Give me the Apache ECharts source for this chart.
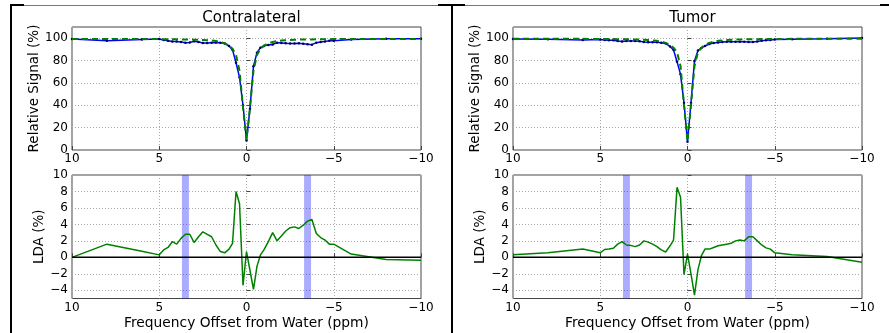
<!DOCTYPE html>
<html><head><meta charset="utf-8">
<script src="https://cdn.jsdelivr.net/npm/echarts@6/dist/echarts.min.js"></script>
<style>html,body{margin:0;padding:0;background:#fff}#c{width:889px;height:333px}</style>
</head><body><div id="c"></div>
<script>
// Frequency offsets (ppm)
const offsets = [10, 8, 6, 5, 4.75, 4.5, 4.25, 4, 3.75, 3.5, 3.25, 3, 2.75, 2.5, 2.25, 2, 1.75, 1.5, 1.25, 1, 0.8, 0.6, 0.4, 0.2, 0, -0.2, -0.4, -0.6, -0.8, -1, -1.25, -1.5, -1.75, -2, -2.25, -2.5, -2.75, -3, -3.25, -3.5, -3.75, -4, -4.25, -4.5, -4.75, -5, -6, -8, -10];

// Contralateral
const contraSignal = [99.3, 97.8, 98.8, 99.3, 98.3, 97.8, 97.0, 97.0, 96.5, 96.0, 96.2, 97.3, 96.5, 95.7, 95.8, 96.0, 96.2, 96.0, 95.3, 93.0, 89.5, 78.0, 65.0, 40.0, 8.5, 37.0, 75.0, 87.0, 91.5, 93.0, 94.0, 94.3, 96.0, 95.8, 95.5, 95.3, 95.3, 95.5, 95.0, 94.5, 94.2, 96.0, 96.6, 97.0, 97.6, 97.8, 98.8, 99.4, 99.5];
const contraFit = [99.3, 99.3, 99.2, 99.2, 99.1, 99.1, 99.0, 99.0, 98.9, 98.9, 98.8, 98.7, 98.6, 98.4, 98.2, 97.9, 97.4, 96.6, 95.4, 93.3, 90.6, 85.0, 71.0, 38.0, 9.0, 38.0, 71.0, 85.0, 90.6, 93.3, 95.4, 96.6, 97.4, 97.9, 98.2, 98.4, 98.6, 98.7, 98.8, 98.9, 98.9, 99.0, 99.0, 99.1, 99.1, 99.2, 99.2, 99.3, 99.3];
const contraLDA = [0, 1.6, 0.75, 0.3, 0.9, 1.2, 1.9, 1.6, 2.3, 2.8, 2.8, 1.8, 2.5, 3.1, 2.8, 2.5, 1.5, 0.7, 0.55, 1.0, 1.7, 8.0, 6.5, -3.4, 0.7, -1.6, -3.9, -1.1, 0.3, 0.9, 1.9, 3.0, 2.0, 2.6, 3.2, 3.6, 3.7, 3.5, 3.9, 4.4, 4.6, 2.9, 2.4, 2.1, 1.6, 1.6, 0.4, -0.25, -0.35];

// Tumor
const tumorSignal = [99.3, 98.95, 98.4, 98.75, 98.35, 98.2, 98.1, 97.5, 97.1, 97.5, 97.45, 97.5, 97.2, 96.5, 96.45, 96.4, 96.3, 96.0, 95.15, 92.6, 89.4, 79.0, 67.7, 42.1, 7.4, 42.0, 79.6, 89.0, 91.3, 93.0, 94.8, 95.7, 96.2, 96.5, 96.7, 96.8, 96.7, 96.7, 96.9, 96.5, 96.5, 97.1, 97.7, 98.05, 98.3, 98.75, 99.1, 99.4, 100.2];
const tumorFit = [99.6, 99.5, 99.4, 99.3, 99.3, 99.2, 99.2, 99.1, 99.0, 99.0, 98.9, 98.8, 98.7, 98.5, 98.3, 98.0, 97.6, 96.9, 95.8, 94.0, 91.5, 87.5, 75.0, 40.0, 7.8, 40.0, 75.0, 87.5, 91.5, 94.0, 95.8, 96.9, 97.6, 98.0, 98.3, 98.5, 98.7, 98.8, 98.9, 99.0, 99.0, 99.1, 99.2, 99.2, 99.3, 99.3, 99.4, 99.5, 99.6];
const tumorLDA = [0.3, 0.55, 1.0, 0.55, 0.95, 1.0, 1.1, 1.6, 1.9, 1.5, 1.45, 1.3, 1.5, 2.0, 1.85, 1.6, 1.3, 0.9, 0.65, 1.4, 2.1, 8.5, 7.3, -2.1, 0.4, -2.0, -4.6, -1.5, 0.2, 1.0, 1.0, 1.2, 1.4, 1.5, 1.6, 1.7, 2.0, 2.1, 2.0, 2.5, 2.5, 2.0, 1.5, 1.15, 1.0, 0.55, 0.3, 0.1, -0.6];

// Highlighted bands (ppm)
const bandPos = [3.3, 3.7];
const bandNeg = [-3.7, -3.3];

// Ticks
const xTicks = [10, 5, 0, -5, -10];
const zTicks = [0, 20, 40, 60, 80, 100];
const ldaTicks = [-4, -2, 0, 2, 4, 6, 8, 10];
const zeroLine = [[10, 0], [-10, 0]];

const titles = ['Contralateral', 'Tumor'];

const pair = (xs, ys) => xs.map((x, i) => [x, ys[i]]);
const FONT = 'DejaVu Sans';
const frameColor = '#444';
const gridLineStyle = { color: '#a8a8a8', type: [1, 2], width: 1 };

const grids = [
  { left: 72, top: 27, width: 349, height: 123 },
  { left: 72, top: 175, width: 349, height: 123.5 },
  { left: 513, top: 27, width: 349, height: 123 },
  { left: 513, top: 175, width: 349, height: 123.5 }
].map(g => Object.assign(g, { show: true, borderColor: frameColor, borderWidth: 1, containLabel: false }));

function xAx(i, withName) {
  return {
    type: 'value', gridIndex: i, min: -10, max: 10, interval: 5, inverse: true,
    name: withName ? 'Frequency Offset from Water (ppm)' : '',
    nameLocation: 'middle', nameGap: 18,
    nameTextStyle: { fontFamily: FONT, fontSize: 13.8, color: '#000' },
    axisLine: { show: false },
    axisTick: { show: true, inside: true, length: 4, lineStyle: { color: frameColor } },
    axisLabel: { fontFamily: FONT, fontSize: 12, color: '#000', margin: 3,
      formatter: v => (v < 0 ? '\u2212' + Math.abs(v) : String(v)) },
    splitLine: { show: true, lineStyle: gridLineStyle }
  };
}
function yAx(i, name, min, max, ticks) {
  return {
    type: 'value', gridIndex: i, min: min, max: max,
    name: name, nameLocation: 'middle', nameGap: i % 2 === 0 ? 29 : 23,
    nameTextStyle: { fontFamily: FONT, fontSize: 13.5, color: '#000' },
    axisLine: { show: false },
    axisTick: { show: true, inside: true, length: 4, customValues: ticks, lineStyle: { color: frameColor } },
    axisLabel: { fontFamily: FONT, fontSize: 12, color: '#000', margin: 4, customValues: ticks,
      formatter: v => (v < 0 ? '\u2212' + Math.abs(v) : String(v)) },
    splitLine: { show: true, lineStyle: gridLineStyle }
  };
}

const xAxes = [xAx(0, false), xAx(1, true), xAx(2, false), xAx(3, true)];
const yAxes = [
  yAx(0, 'Relative Signal (%)', 0, 110, zTicks),
  yAx(1, 'LDA (%)', -5, 10, ldaTicks),
  yAx(2, 'Relative Signal (%)', 0, 110, zTicks),
  yAx(3, 'LDA (%)', -5, 10, ldaTicks)
];

function zSeries(idx, sig, fit) {
  return [
    { type: 'line', xAxisIndex: idx, yAxisIndex: idx, data: pair(offsets, fit),
      symbol: 'none', lineStyle: { color: '#008000', width: 2, type: [6, 4] }, z: 3, silent: true },
    { type: 'line', xAxisIndex: idx, yAxisIndex: idx, data: pair(offsets, sig),
      symbol: 'circle', symbolSize: 2.5, itemStyle: { color: '#000060' },
      lineStyle: { color: '#0000ff', width: 1.5 }, z: 2, silent: true }
  ];
}
function ldaSeries(idx, lda) {
  return [
    { type: 'line', xAxisIndex: idx, yAxisIndex: idx, data: pair(offsets, lda),
      symbol: 'none', lineStyle: { color: '#008000', width: 1.5 }, z: 3, silent: true,
      markArea: { silent: true, itemStyle: { color: 'rgba(0,0,255,0.33)' },
        data: [[{ xAxis: bandPos[0] }, { xAxis: bandPos[1] }], [{ xAxis: bandNeg[0] }, { xAxis: bandNeg[1] }]] } },
    { type: 'line', xAxisIndex: idx, yAxisIndex: idx, data: zeroLine,
      symbol: 'none', lineStyle: { color: '#000', width: 1.5 }, z: 4, silent: true }
  ];
}

const series = [].concat(
  zSeries(0, contraSignal, contraFit),
  ldaSeries(1, contraLDA),
  zSeries(2, tumorSignal, tumorFit),
  ldaSeries(3, tumorLDA)
);

const chart = echarts.init(document.getElementById('c'), null, { renderer: 'canvas' });
chart.setOption({
  animation: false,
  backgroundColor: '#fff',
  title: [
    { text: titles[0], left: 246.5, top: 6, textAlign: 'center', textStyle: { fontFamily: FONT, fontSize: 15, fontWeight: 'normal', color: '#000' } },
    { text: titles[1], left: 687.5, top: 6, textAlign: 'center', textStyle: { fontFamily: FONT, fontSize: 15, fontWeight: 'normal', color: '#000' } }
  ],
  grid: grids,
  xAxis: xAxes,
  yAxis: yAxes,
  series: series,
  graphic: [
    { type: 'line', shape: { x1: 10, y1: 5.5, x2: 889, y2: 5.5 }, style: { stroke: '#777', lineWidth: 1 } },
    { type: 'line', shape: { x1: 10, y1: 5, x2: 24, y2: 5 }, style: { stroke: '#000', lineWidth: 2 } },
    { type: 'line', shape: { x1: 438, y1: 5, x2: 465, y2: 5 }, style: { stroke: '#000', lineWidth: 2 } },
    { type: 'line', shape: { x1: 880, y1: 5, x2: 889, y2: 5 }, style: { stroke: '#000', lineWidth: 2 } },
    { type: 'line', shape: { x1: 11, y1: 4, x2: 11, y2: 333 }, style: { stroke: '#000', lineWidth: 2 } },
    { type: 'line', shape: { x1: 452, y1: 4, x2: 452, y2: 333 }, style: { stroke: '#000', lineWidth: 2 } }
  ]
});
</script>
</body></html>
